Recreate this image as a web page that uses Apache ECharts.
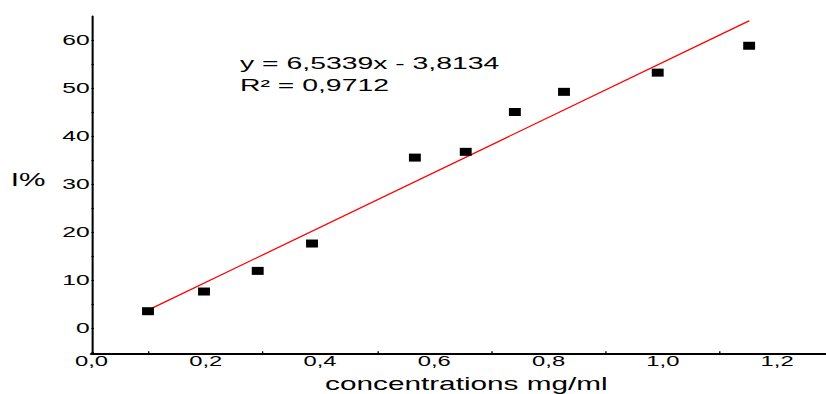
<!DOCTYPE html>
<html>
<head>
<meta charset="utf-8">
<script src="https://cdn.jsdelivr.net/npm/echarts@6/dist/echarts.min.js"></script>
<style>
  html, body { margin: 0; padding: 0; background: #ffffff; overflow: hidden; }
  #chart { width: 486px; height: 394px; transform: scaleX(1.6996); transform-origin: 0 0; }
</style>
</head>
<body>
<div id="chart"></div>
<script>
// ---- data ----
const concentrations = [0.099, 0.197, 0.291, 0.386, 0.566, 0.655, 0.741, 0.827, 0.991, 1.151];
const inhibition     = [3.5, 7.6, 11.9, 17.6, 35.5, 36.7, 45.0, 49.2, 53.2, 58.8];
const trendX = [0.0994, 1.1512];
const trendY = [3.75, 64.0];
const xTickValues = [0, 0.2, 0.4, 0.6, 0.8, 1.0, 1.2];
const yTickValues = [0, 10, 20, 30, 40, 50, 60];
const yMinorTicks = [-5, 0, 5, 10, 15, 20, 25, 30, 35, 40, 45, 50, 55, 60];
const xMinorTicks = [0.1, 0.3, 0.5, 0.7, 0.9, 1.1];
const equationLines = ['y = 6,5339x - 3,8134', 'R² = 0,9712'];
const xTitle = 'concentrations mg/ml';
const yTitle = 'I%';

const FONT = '"Liberation Sans", Arial, sans-serif';
const chart = echarts.init(document.getElementById('chart'), null, { renderer: 'svg' });

const scatterData = concentrations.map((x, i) => [x, inhibition[i]]);
const trendData = trendX.map((x, i) => [x, trendY[i]]);

chart.setOption({
  animation: false,
  backgroundColor: '#ffffff',
  grid: { left: 53.8, right: 0, top: 16, bottom: 40.7, containLabel: false },
  xAxis: {
    type: 'value',
    min: 0,
    max: 1.2855,
    axisLine: { show: true, onZero: false, lineStyle: { color: '#000', width: 2 } },
    axisTick: { show: true, inside: true, length: 2, customValues: xMinorTicks, lineStyle: { color: '#000', width: 0.8 } },
    splitLine: { show: false },
    axisLabel: {
      customValues: xTickValues,
      formatter: v => v.toFixed(1).replace('.', ','),
      color: '#000', fontFamily: FONT, fontSize: 14, margin: 1, lineHeight: 14
    }
  },
  yAxis: {
    type: 'value',
    min: -5.27,
    max: 65,
    axisLine: { show: true, onZero: false, lineStyle: { color: '#000', width: 1.2 } },
    axisTick: { show: true, inside: true, length: 1.5, customValues: yMinorTicks, lineStyle: { color: '#000', width: 1 } },
    splitLine: { show: false },
    axisLabel: {
      customValues: yTickValues,
      color: '#000', fontFamily: FONT, fontSize: 14.5, margin: 1
    }
  },
  graphic: [
    { type: 'text', x: 141.2, y: 63.5, style: { text: equationLines[0], font: '16.7px ' + FONT, fill: '#000', textVerticalAlign: 'middle', textAlign: 'left' } },
    { type: 'text', x: 141.2, y: 85.5, style: { text: equationLines[1], font: '16.7px ' + FONT, fill: '#000', textVerticalAlign: 'middle', textAlign: 'left' } },
    { type: 'text', x: 274.4, y: 383.5, style: { text: xTitle, font: '17.5px ' + FONT, fill: '#000', textVerticalAlign: 'middle', textAlign: 'center' } },
    { type: 'text', x: 16.5, y: 180, style: { text: yTitle, font: '17.5px ' + FONT, fill: '#000', textVerticalAlign: 'middle', textAlign: 'center' } }
  ],
  series: [
    {
      type: 'line',
      data: trendData,
      showSymbol: false,
      symbol: 'none',
      lineStyle: { color: '#ff0000', width: 1.1 },
      z: 2
    },
    {
      type: 'scatter',
      data: scatterData,
      symbol: 'rect',
      symbolSize: [7, 8],
      itemStyle: { color: '#000000', opacity: 1 },
      z: 3
    }
  ]
});
</script>
</body>
</html>
